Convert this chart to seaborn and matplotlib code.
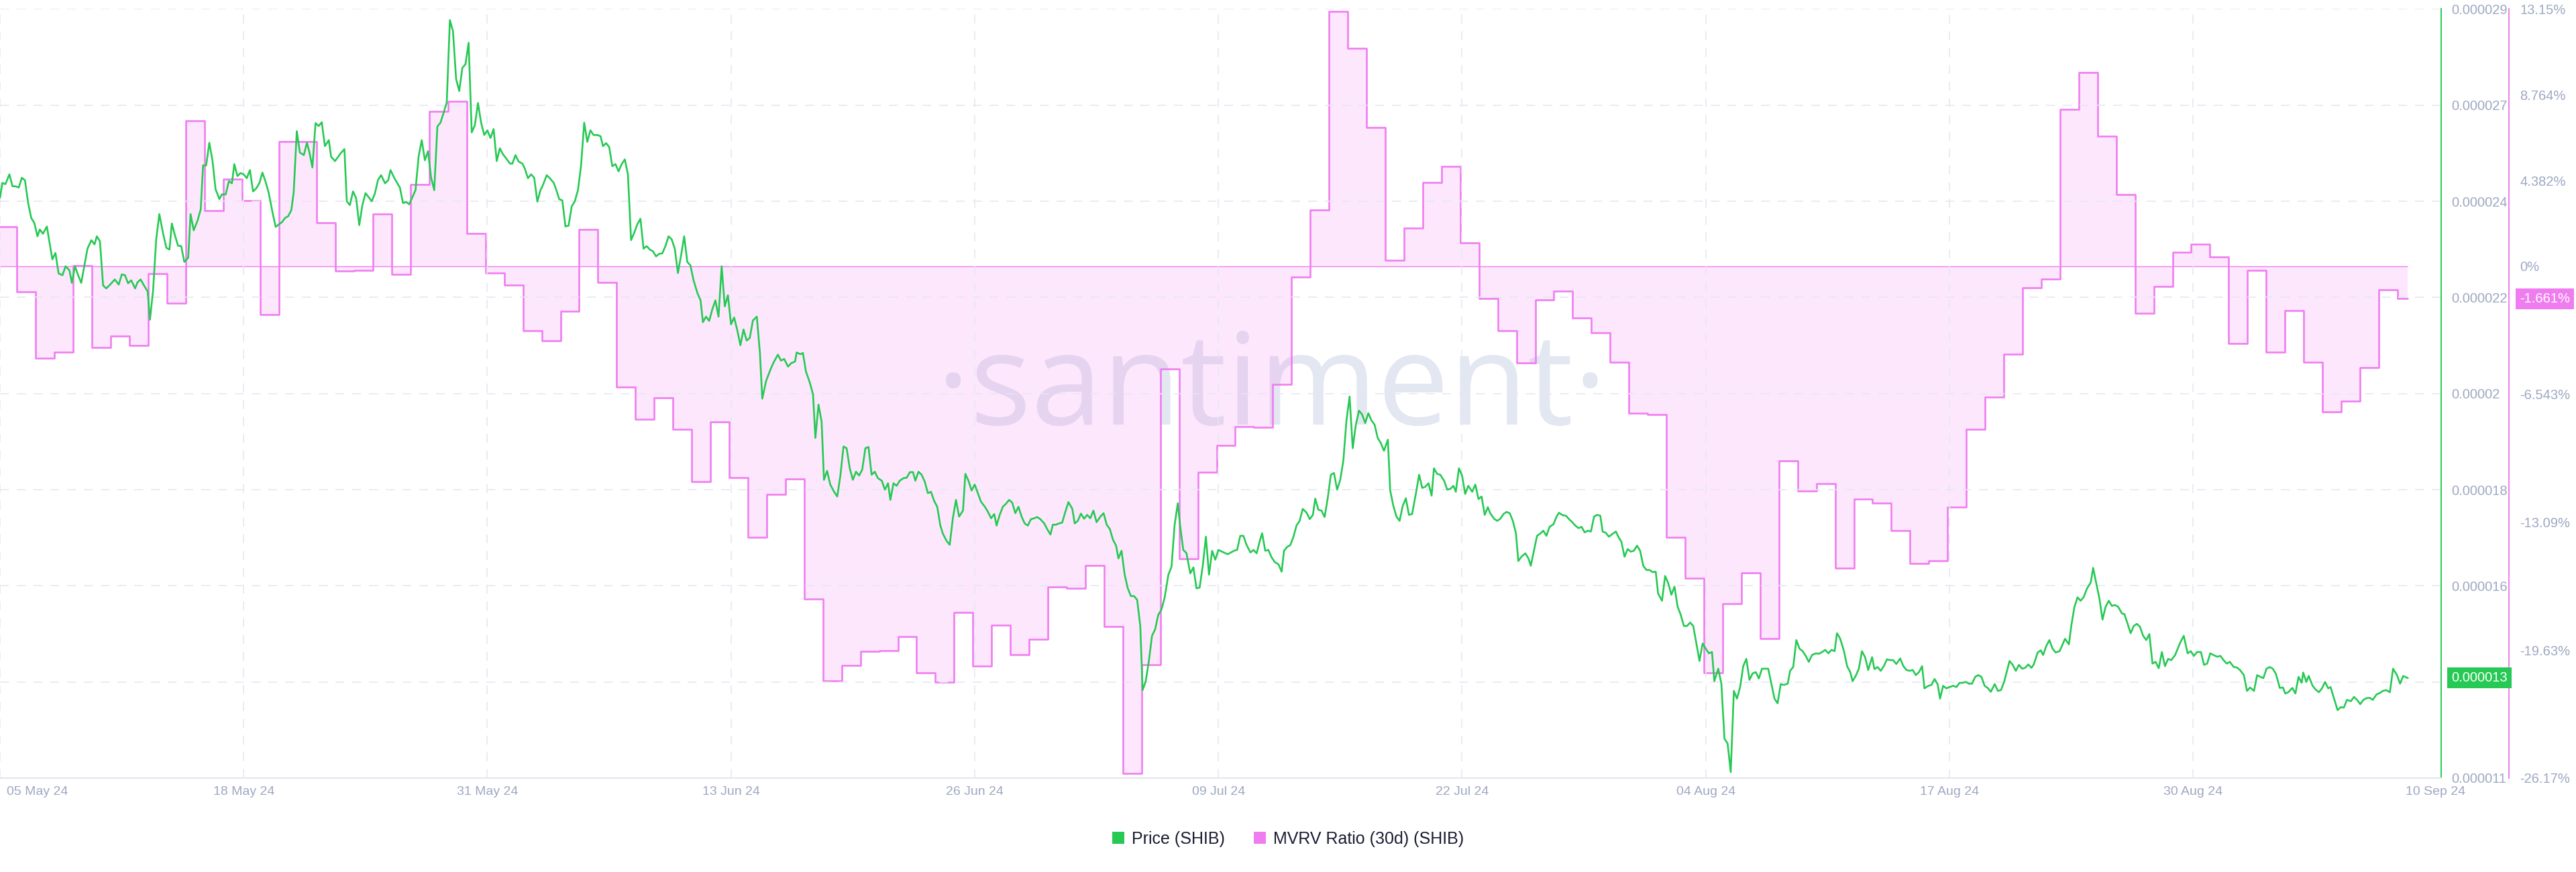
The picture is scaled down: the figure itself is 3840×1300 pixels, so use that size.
import matplotlib

matplotlib.use("Agg")
import matplotlib.pyplot as plt
from matplotlib.patches import Patch
from matplotlib.transforms import ScaledTranslation
import numpy as np
import pandas as pd
import seaborn as sns

# ---- data ----
START = pd.Timestamp("2024-05-05 00:00")

# price of SHIB, hours after 05 May 00:00 and value in units of 1e-6 USD
price_hours_a = [0, 3, 7, 12, 16, 20, 24, 28, 32, 36, 40, 44, 48, 51, 55, 60, 67, 71, 75, 80,
                 84, 89, 92, 96, 100, 104, 112, 117, 121, 124, 128, 132, 136, 141, 147, 152, 156, 160, 164, 168,
                 173, 176, 180, 185, 189, 192, 196, 200, 204, 209, 213, 217, 220, 224, 228, 232, 236, 241, 244, 248,
                 253, 257, 260, 264, 268, 272, 276, 281, 284, 289, 293, 297, 300, 304, 308, 312, 316, 320, 324, 328,
                 332, 336, 340, 344, 349, 353, 357, 361, 365, 369, 373, 376, 380, 384, 389, 393, 396, 400, 404, 408,
                 412, 416, 421, 424, 429, 436, 441, 444, 448, 452, 456, 460, 464, 468, 473, 476, 480, 484, 488, 493,
                 497, 500, 505, 512, 516, 520, 524]
price_vals_a = [24.58, 24.93, 24.90, 25.13, 24.85, 24.85, 24.82, 25.05, 24.99, 24.46, 24.11, 23.99, 23.68, 23.84,
                23.74, 23.91, 23.14, 23.29, 22.81, 22.77, 22.98, 22.88, 22.59, 22.98, 22.77, 22.59, 23.39, 23.59,
                23.49, 23.68, 23.56, 22.53, 22.46, 22.55, 22.67, 22.55, 22.79, 22.77, 22.58, 22.65, 22.46, 22.60,
                22.67, 22.51, 22.39, 21.73, 22.41, 23.61, 24.20, 23.73, 23.41, 23.37, 23.98, 23.70, 23.46, 23.45,
                23.08, 23.18, 24.20, 23.82, 24.05, 24.31, 25.34, 25.34, 25.87, 25.46, 24.78, 24.55, 24.66, 24.66,
                24.97, 24.92, 25.37, 25.09, 25.16, 25.13, 25.04, 25.23, 24.73, 24.80, 24.92, 25.17, 24.96, 24.70,
                24.23, 23.90, 23.96, 24.01, 24.11, 24.15, 24.29, 24.70, 26.14, 25.64, 25.58, 25.87, 25.66, 25.29,
                26.33, 26.26, 26.35, 25.79, 25.93, 25.54, 25.44, 25.62, 25.72, 24.50, 24.41, 24.73, 24.57, 23.94,
                24.41, 24.69, 24.57, 24.50, 24.68, 25.00, 25.11, 24.92, 24.99, 25.23, 25.04, 24.82, 24.46, 24.48,
                24.43]
price_hours_b = [532, 536, 540, 544, 548, 552, 556, 560, 564, 568, 572, 576, 580, 584, 588, 592, 596, 600, 604, 608,
                 612, 616, 620, 624, 628, 632, 636, 640, 644, 649, 653, 656, 660, 664, 669, 672, 676, 680, 684, 688,
                 692, 695, 700, 704, 709, 712, 716, 720, 724, 728, 732, 736, 740, 744, 748, 752, 756, 760, 765, 769,
                 772, 776, 780, 784, 788, 792, 796, 800, 804, 808, 812, 816, 820, 824, 828, 832, 836, 840, 844, 848,
                 852, 856, 860, 864, 868, 872, 876, 880, 884, 888, 893, 897, 900, 904, 908, 912, 916, 920, 924, 928,
                 932, 936, 940, 944, 948, 952, 956, 960, 964, 969, 973, 976, 981, 986, 990, 996, 1000, 1004, 1009,
                 1013, 1018, 1020, 1025, 1028, 1032, 1037, 1041, 1044, 1048]
price_vals_b = [24.76, 25.55, 25.93, 25.46, 25.67, 25.05, 24.76, 26.25, 26.34, 26.57, 26.81, 28.74, 28.48, 27.36,
                27.08, 27.62, 27.71, 28.21, 26.11, 26.28, 26.80, 26.34, 26.05, 26.16, 25.98, 26.19, 25.44, 25.74,
                25.60, 25.48, 25.38, 25.38, 25.58, 25.43, 25.38, 25.26, 25.04, 25.13, 25.05, 24.49, 24.76, 24.87,
                25.11, 25.04, 24.93, 24.78, 24.55, 24.52, 23.91, 23.93, 24.38, 24.50, 24.76, 25.34, 26.34, 25.89,
                26.16, 26.05, 26.05, 26.02, 25.79, 25.86, 25.77, 25.32, 25.37, 25.20, 25.37, 25.48, 25.13, 23.59,
                23.76, 23.96, 24.09, 23.39, 23.45, 23.37, 23.33, 23.21, 23.27, 23.28, 23.45, 23.68, 23.61, 23.39,
                22.82, 23.23, 23.68, 23.08, 23.00, 22.65, 22.35, 22.18, 21.67, 21.80, 21.70, 21.97, 22.18, 21.80,
                22.98, 22.04, 22.30, 21.62, 21.78, 21.48, 21.13, 21.50, 21.24, 21.30, 21.71, 21.80, 20.95, 19.88,
                20.30, 20.54, 20.71, 20.91, 20.77, 20.81, 20.63, 20.71, 20.75, 20.96, 20.92, 20.95, 20.51, 20.25,
                19.98, 18.96, 19.74]
price_hours_c = [1052, 1055, 1059, 1063, 1068, 1072, 1076, 1080, 1084, 1088, 1092, 1096, 1100, 1104, 1108, 1112,
                 1116, 1120, 1124, 1129, 1133, 1137, 1140, 1144, 1148, 1152, 1157, 1161, 1165, 1169, 1172, 1176,
                 1180, 1184, 1188, 1192, 1196, 1200, 1204, 1207, 1212, 1216, 1220, 1224, 1228, 1233, 1236, 1240,
                 1244, 1248, 1252, 1256, 1261, 1265, 1269, 1273, 1276, 1280, 1284, 1288, 1292, 1296, 1300, 1304,
                 1308, 1312, 1316, 1320, 1324, 1328, 1332, 1337, 1341, 1345, 1348, 1352, 1356, 1360, 1364, 1368,
                 1373, 1376, 1380, 1384, 1388, 1392, 1396, 1400, 1404, 1409, 1413, 1417, 1421, 1425, 1429, 1432,
                 1436, 1440, 1444, 1448, 1452, 1456, 1460, 1463, 1467, 1471, 1475, 1479, 1483, 1487, 1491, 1496,
                 1500, 1504, 1508, 1511, 1515, 1519, 1524, 1528, 1532, 1536, 1540, 1544, 1548, 1552, 1556, 1560]
price_vals_c = [19.34, 17.98, 18.19, 17.87, 17.70, 17.59, 18.08, 18.76, 18.72, 18.25, 17.98, 18.17, 18.08, 18.22,
                18.72, 18.75, 18.10, 18.17, 18.02, 17.96, 17.75, 17.90, 17.51, 17.90, 17.84, 17.96, 18.02, 18.03,
                18.16, 18.16, 17.96, 18.17, 18.10, 17.94, 17.67, 17.70, 17.49, 17.35, 16.91, 16.73, 16.55, 16.46,
                17.08, 17.51, 17.12, 17.26, 18.12, 17.96, 17.73, 17.87, 17.67, 17.47, 17.35, 17.23, 17.08, 17.18,
                16.91, 17.16, 17.35, 17.42, 17.51, 17.45, 17.20, 17.35, 17.12, 16.96, 16.91, 17.06, 17.08, 17.11,
                17.06, 16.96, 16.82, 16.70, 16.93, 16.93, 16.96, 16.98, 17.23, 17.46, 17.30, 16.96, 17.02, 17.19,
                17.07, 17.16, 17.08, 17.26, 16.99, 17.12, 17.20, 16.93, 16.83, 16.58, 16.44, 16.14, 16.32, 15.76,
                15.44, 15.26, 15.26, 15.17, 14.56, 13.06, 13.27, 13.74, 14.33, 14.48, 14.82, 14.94, 15.21, 15.76,
                15.95, 16.93, 17.43, 16.91, 16.34, 16.27, 15.79, 15.93, 15.44, 15.46, 15.97, 16.65, 15.76, 16.32,
                16.11, 16.34]
price_hours_d = [1568, 1572, 1576, 1580, 1584, 1588, 1592, 1596, 1601, 1605, 1609, 1613, 1616, 1620, 1624, 1628,
                 1632, 1637, 1641, 1644, 1648, 1652, 1656, 1660, 1664, 1668, 1673, 1677, 1681, 1684, 1688, 1692,
                 1696, 1700, 1704, 1708, 1712, 1716, 1720, 1724, 1728, 1732, 1736, 1740, 1744, 1748, 1752, 1756,
                 1760, 1764, 1768, 1772, 1777, 1780, 1784, 1788, 1792, 1796, 1800, 1804, 1808, 1813, 1817, 1821,
                 1825, 1829, 1833, 1836, 1840, 1844, 1849, 1853, 1857, 1861, 1864, 1868, 1872, 1876, 1880, 1885,
                 1889, 1893, 1897, 1901, 1905, 1908, 1913, 1917, 1921, 1925, 1929, 1933, 1937, 1941, 1944, 1948,
                 1953, 1957, 1960, 1964, 1968, 1972, 1976, 1980, 1984, 1989, 1993, 1996, 2001, 2005, 2009, 2013,
                 2017, 2021, 2025, 2029, 2033, 2037, 2041, 2045, 2049, 2052, 2056, 2060, 2065, 2069, 2072, 2076]
price_vals_d = [16.27, 16.24, 16.28, 16.32, 16.34, 16.67, 16.67, 16.46, 16.28, 16.34, 16.26, 16.55, 16.73, 16.32,
                16.34, 16.17, 16.06, 16.00, 15.83, 16.32, 16.41, 16.45, 16.64, 16.91, 17.02, 17.30, 17.21, 17.06,
                17.16, 17.54, 17.28, 17.26, 17.11, 17.55, 18.10, 18.14, 17.75, 17.98, 18.43, 19.37, 19.93, 18.72,
                19.27, 19.60, 19.51, 19.31, 19.54, 19.37, 19.27, 18.96, 18.84, 18.66, 18.92, 17.73, 17.37, 17.12,
                17.02, 17.37, 17.55, 17.16, 17.18, 17.67, 18.10, 17.79, 17.82, 17.90, 17.61, 18.25, 18.12, 18.10,
                17.96, 17.75, 17.77, 17.84, 17.70, 18.25, 18.08, 17.65, 17.84, 17.70, 17.87, 17.53, 17.59, 17.16,
                17.34, 17.20, 17.07, 17.02, 17.07, 17.18, 17.23, 17.20, 17.02, 16.73, 16.08, 16.18, 16.26, 16.14,
                15.97, 16.32, 16.67, 16.72, 16.79, 16.67, 16.88, 16.94, 17.12, 17.21, 17.15, 17.14, 17.06, 16.99,
                16.91, 16.85, 16.88, 16.75, 16.79, 16.77, 17.12, 17.16, 17.14, 16.77, 16.74, 16.65, 16.72, 16.77,
                16.65, 16.53]
price_hours_e = [2080, 2084, 2088, 2092, 2096, 2100, 2104, 2108, 2112, 2116, 2120, 2123, 2128, 2132, 2136, 2140,
                 2144, 2148, 2152, 2156, 2160, 2164, 2168, 2172, 2176, 2180, 2184, 2188, 2192, 2195, 2200, 2204,
                 2208, 2212, 2216, 2220, 2224, 2228, 2232, 2236, 2240, 2244, 2248, 2252, 2256, 2260, 2264, 2268,
                 2272, 2276, 2280, 2284, 2289, 2292, 2296, 2300, 2304, 2308, 2312, 2316, 2320, 2325, 2329, 2333,
                 2337, 2341, 2345, 2349, 2352, 2356, 2361, 2365, 2369, 2372, 2376, 2380, 2384, 2388, 2392, 2397,
                 2400, 2404, 2408, 2412, 2416, 2420, 2424, 2428, 2433, 2437, 2441, 2445, 2449, 2453, 2457, 2461,
                 2464, 2469, 2473, 2477, 2481, 2484, 2488, 2492, 2496, 2501, 2505, 2509, 2513, 2517, 2521, 2525,
                 2529, 2533, 2537, 2541, 2545, 2549, 2554, 2558, 2562, 2566, 2570, 2573, 2577, 2581, 2585, 2589]
price_vals_e = [16.18, 16.36, 16.30, 16.32, 16.44, 16.32, 15.97, 15.87, 15.87, 15.82, 15.83, 15.32, 15.15, 15.73,
                15.56, 15.29, 15.48, 15.01, 14.82, 14.56, 14.56, 14.64, 14.56, 14.15, 13.74, 14.15, 14.03, 13.92,
                13.95, 13.27, 13.56, 13.21, 11.92, 11.81, 11.14, 13.04, 12.86, 13.13, 13.62, 13.79, 13.30, 13.45,
                13.48, 13.33, 13.56, 13.56, 13.56, 13.21, 12.86, 12.75, 13.20, 13.18, 13.21, 13.51, 13.60, 14.23,
                14.03, 13.97, 13.86, 13.72, 13.88, 13.92, 13.91, 13.95, 14.00, 13.92, 14.00, 13.97, 14.39, 14.27,
                13.97, 13.62, 13.48, 13.27, 13.39, 13.56, 13.97, 13.83, 13.53, 13.83, 13.55, 13.60, 13.51, 13.62,
                13.78, 13.76, 13.76, 13.67, 13.80, 13.62, 13.53, 13.51, 13.53, 13.41, 13.48, 13.62, 13.10, 13.16,
                13.18, 13.32, 13.19, 12.86, 13.16, 13.10, 13.13, 13.16, 13.13, 13.23, 13.23, 13.25, 13.21, 13.21,
                13.37, 13.41, 13.37, 13.16, 13.11, 13.02, 13.20, 13.04, 13.06, 13.25, 13.53, 13.74, 13.65, 13.51,
                13.65, 13.56]
price_hours_f = [2593, 2597, 2601, 2604, 2609, 2613, 2616, 2620, 2624, 2628, 2632, 2637, 2640, 2644, 2649, 2652,
                 2656, 2660, 2664, 2668, 2672, 2677, 2680, 2684, 2688, 2692, 2696, 2700, 2704, 2708, 2712, 2717,
                 2720, 2724, 2728, 2732, 2736, 2740, 2744, 2748, 2752, 2756, 2760, 2764, 2768, 2772, 2776, 2780,
                 2785, 2789, 2792, 2796, 2801, 2805, 2809, 2813, 2818, 2822, 2826, 2830, 2834, 2839, 2843, 2847,
                 2851, 2855, 2860, 2864, 2868, 2873, 2877, 2881, 2886, 2890, 2894, 2898, 2902, 2906, 2910, 2914,
                 2919, 2923, 2926, 2930, 2935, 2939, 2943, 2947, 2949, 2953, 2956, 2961, 2965, 2969, 2973, 2977,
                 2981, 2984, 2989, 2993, 2997, 3001, 3005, 3010, 3014, 3018, 3022, 3026, 3030, 3034, 3038, 3043,
                 3047, 3051, 3055, 3060, 3064, 3069, 3073, 3077, 3083]
price_vals_f = [13.58, 13.66, 13.58, 13.66, 13.94, 13.99, 13.88, 14.09, 14.23, 14.03, 13.94, 13.97, 14.09, 14.26,
                14.13, 14.56, 15.00, 15.23, 15.15, 15.24, 15.43, 15.58, 15.92, 15.56, 15.21, 14.71, 15.01, 15.15,
                15.03, 15.05, 15.01, 14.85, 14.84, 14.62, 14.39, 14.56, 14.61, 14.54, 14.33, 14.23, 14.37, 13.68,
                13.72, 13.57, 13.95, 13.62, 13.79, 13.76, 13.88, 14.06, 14.19, 14.33, 13.92, 13.97, 13.86, 13.95,
                13.95, 13.65, 13.68, 13.92, 13.88, 13.84, 13.86, 13.76, 13.68, 13.72, 13.60, 13.59, 13.53, 13.41,
                13.04, 13.12, 13.04, 13.41, 13.37, 13.34, 13.56, 13.60, 13.56, 13.44, 13.11, 13.12, 12.98, 13.01,
                13.11, 12.98, 13.37, 13.23, 13.47, 13.25, 13.39, 13.16, 13.07, 13.01, 13.10, 13.25, 13.10, 13.13,
                12.83, 12.59, 12.66, 12.65, 12.83, 12.80, 12.90, 12.83, 12.73, 12.83, 12.87, 12.88, 12.83, 12.96,
                12.99, 13.04, 13.06, 13.01, 13.56, 13.41, 13.21, 13.39, 13.34]

# MVRV ratio (30d) in %, one value per day (daily update ~21:40)
MVRV_START = "2024-05-04 21:40"
mvrv_vals = [2.01, -1.31, -4.69, -4.39, 0.02, -4.16, -3.57, -4.05, -0.39, -1.90,
             7.42, 2.83, 4.47, 3.37, -2.47, 6.37, 6.37, 2.22, -0.26, -0.21,
             2.68, -0.42, 4.19, 7.93, 8.44, 1.66, -0.34, -0.96, -3.31, -3.82,
             -2.29, 1.89, -0.83, -6.18, -7.84, -6.74, -8.33, -11.02, -7.97, -10.81,
             -13.86, -11.68, -10.86, -17.01, -21.20, -20.41, -19.69, -19.66, -18.93, -20.80,
             -21.26, -17.70, -20.46, -18.34, -19.87, -19.08, -16.39, -16.47, -15.29, -18.41,
             -25.92, -20.36, -5.26, -14.96, -10.53, -9.15, -8.20, -8.23, -6.05, -0.55,
             2.86, 13.02, 11.13, 7.11, 0.30, 1.96, 4.29, 5.09, 1.20, -1.65,
             -3.29, -4.95, -1.72, -1.29, -2.65, -3.39, -4.92, -7.51, -7.59, -13.86,
             -15.96, -20.80, -17.26, -15.68, -19.05, -9.94, -11.50, -11.12, -15.45, -11.91,
             -12.12, -13.53, -15.21, -15.06, -12.32, -8.35, -6.69, -4.49, -1.11, -0.65,
             8.03, 9.92, 6.65, 3.68, -2.41, -1.03, 0.73, 1.14, 0.48, -3.95,
             -0.21, -4.39, -2.26, -4.92, -7.46, -6.89, -5.18, -1.21, -1.661]

# axis ticks / labels (the 0.000013 tick label sits under the last-price box)
price_ticks = [29e-6 - 2.25e-6 * k for k in range(9)]
price_ticklabels = ["0.000029", "0.000027", "0.000024", "0.000022", "0.00002",
                    "0.000018", "0.000016", "", "0.000011"]
mvrv_ticks = [13.15, 8.764, 4.382, 0, -6.543, -13.09, -19.63, -26.17]
mvrv_ticklabels = ["13.15%", "8.764%", "4.382%", "0%", "-6.543%", "-13.09%", "-19.63%", "-26.17%"]
date_ticks = pd.date_range("2024-05-05", periods=10, freq="13D")
date_ticklabels = [d.strftime("%d %b %y") for d in date_ticks]

GREEN = "#26c953"
PINK = "#f07df0"
GRID = "#e6e8f2"
TICK = "#9ea8c2"
DARK = "#1b1d33"

sns.set_style("white")
plt.rcParams["font.family"] = ["Liberation Sans", "DejaVu Sans"]


def main():
    price_hours = (price_hours_a + price_hours_b + price_hours_c
                   + price_hours_d + price_hours_e + price_hours_f)
    price_vals = (price_vals_a + price_vals_b + price_vals_c
                  + price_vals_d + price_vals_e + price_vals_f)
    assert len(price_hours) == len(price_vals)
    price_time = START + pd.to_timedelta(price_hours, unit="h")
    price = np.array(price_vals) * 1e-6
    end_time = price_time[-1]

    mvrv_time = list(pd.date_range(MVRV_START, periods=len(mvrv_vals), freq="D"))
    # last daily value holds until the end of the data
    mvrv_x = pd.DatetimeIndex(mvrv_time + [end_time])
    mvrv_y = np.array(mvrv_vals + [mvrv_vals[-1]])

    fig = plt.figure(figsize=(38.4, 13), dpi=100)
    ax = fig.add_axes([0.0, 0.1077, 0.9477, 0.8820])
    ax2 = ax.twinx()
    ax.set_zorder(ax2.get_zorder() + 1)
    ax.patch.set_visible(False)

    # MVRV (pink step area)
    ax2.fill_between(mvrv_x, mvrv_y, 0, step="post", color=PINK, alpha=0.18, lw=0, zorder=1)
    sns.lineplot(x=mvrv_x, y=mvrv_y, ax=ax2, color=PINK, lw=1.9, drawstyle="steps-post",
                 sort=False, estimator=None, zorder=2)
    ax2.hlines(0, price_time[0], end_time, color=PINK, lw=1.0, zorder=2)

    # price (green line)
    sns.lineplot(x=price_time, y=price, ax=ax, color=GREEN, lw=1.9,
                 sort=False, estimator=None, zorder=3)

    ax.set_xlim(START, START + pd.Timedelta(days=130.24))
    ax.set_ylim(11e-6, 29e-6)
    ax2.set_ylim(-26.17, 13.15)
    for a in (ax, ax2):
        a.set_xlabel("")
        a.set_ylabel("")

    # grid
    dash = (0, (8, 7))
    ax.grid(True, axis="both", color=GRID, lw=1.2, linestyle=dash)
    ax2.grid(False)

    # spines
    for s in ("left", "top"):
        ax.spines[s].set_visible(False)
    ax.spines["right"].set_color(GREEN)
    ax.spines["right"].set_linewidth(1.4)
    ax.spines["bottom"].set_color("#e3e6ee")
    ax.spines["bottom"].set_linewidth(1.6)
    for s in ("left", "top", "bottom"):
        ax2.spines[s].set_visible(False)
    ax2.spines["right"].set_position(("outward", 72.7))
    ax2.spines["right"].set_color(PINK)
    ax2.spines["right"].set_linewidth(1.4)

    # y ticks
    ax.yaxis.tick_right()
    ax.set_yticks(price_ticks)
    ax.set_yticklabels(price_ticklabels)
    ax.tick_params(axis="y", length=0, pad=10.8, labelsize=14.5, labelcolor=TICK)
    ax2.set_yticks(mvrv_ticks)
    ax2.set_yticklabels(mvrv_ticklabels)
    ax2.tick_params(axis="y", length=0, pad=11.5, labelsize=14.5, labelcolor=TICK)

    # x ticks
    ax.set_xticks(date_ticks)
    ax.set_xticklabels(date_ticklabels)
    ax.tick_params(axis="x", length=0, pad=9, labelsize=14, labelcolor=TICK)
    first = ax.get_xticklabels()[0]
    first.set_horizontalalignment("left")
    first.set_transform(first.get_transform() + ScaledTranslation(0.1, 0, fig.dpi_scale_trans))
    ax.annotate(end_time.strftime("%d %b %y"), xy=(end_time, 0),
                xycoords=("data", "axes fraction"), xytext=(29.5, -9),
                textcoords="offset points", ha="center", va="top",
                fontsize=14, color=TICK, annotation_clip=False)

    # last value boxes
    ax.annotate("0.000013", xy=(1, price[-1]), xycoords=ax.get_yaxis_transform(),
                xytext=(10.8, 0), textcoords="offset points", ha="left", va="center",
                fontsize=14.5, color="white", annotation_clip=False, zorder=6,
                bbox=dict(boxstyle="square,pad=0.3", fc=GREEN, ec="none"))
    ax2.annotate(f"{mvrv_vals[-1]:.3f}%", xy=(1, mvrv_vals[-1]), xycoords=ax2.get_yaxis_transform(),
                 xytext=(72.7 + 11.5, 0), textcoords="offset points", ha="left", va="center",
                 fontsize=14.5, color="white", annotation_clip=False, zorder=6,
                 bbox=dict(boxstyle="square,pad=0.3", fc=PINK, ec="none"))

    # watermark, behind the data
    wm = ax2.text(0.521, 0.46, "\u00b7santiment\u00b7", transform=ax2.transAxes,
                  ha="center", va="baseline", fontsize=100, color="#e3e7f1",
                  family=["Open Sans", "DejaVu Sans"], zorder=0)
    fig.canvas.draw()
    w = wm.get_window_extent(fig.canvas.get_renderer()).width
    wm.set_fontsize(100 * 1000 / w)

    # legend
    handles = [Patch(facecolor=GREEN, edgecolor="none"), Patch(facecolor=PINK, edgecolor="none")]
    fig.legend(handles, ["Price (SHIB)", "MVRV Ratio (30d) (SHIB)"], loc="center",
               bbox_to_anchor=(0.5, 0.0377), ncol=2, frameon=False, fontsize=18,
               handlelength=0.72, handleheight=0.72, handletextpad=0.45,
               columnspacing=1.7, labelcolor=DARK)

    fig.savefig("out.png", dpi=100)
    plt.close(fig)


if __name__ == "__main__":
    main()
